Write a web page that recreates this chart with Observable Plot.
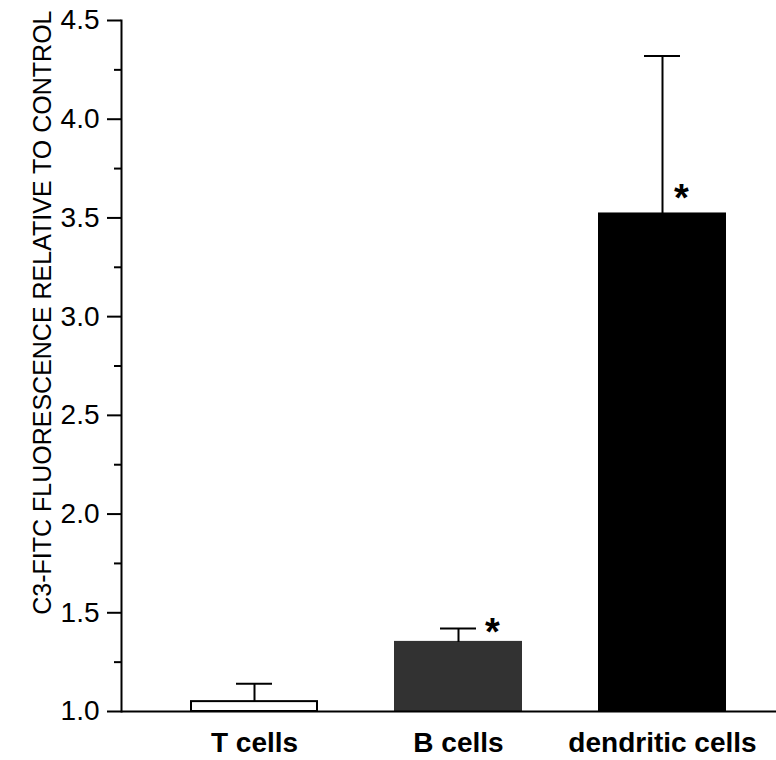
<!DOCTYPE html>
<html>
<head>
<meta charset="utf-8">
<script src="https://cdn.jsdelivr.net/npm/d3@7"></script>
<script src="https://cdn.jsdelivr.net/npm/@observablehq/plot@0.6"></script>
<style>
  html, body { margin: 0; padding: 0; background: #fff; }
</style>
</head>
<body>
<div id="chart"></div>
<script>
const categories = ["T cells", "B cells", "dendritic cells"];
const means = [1.05, 1.35, 3.52];
const upperErrors = [1.14, 1.42, 4.32];
const barFills = ["#ffffff", "#323232", "#000000"];
const barStrokes = ["#000000", "#323232", "#000000"];
const significant = [false, true, true];
const majorTicks = [1.0, 1.5, 2.0, 2.5, 3.0, 3.5, 4.0, 4.5];
const minorTicks = [1.25, 1.75, 2.25, 2.75, 3.25, 3.75, 4.25];
const yLabel = "C3-FITC FLUORESCENCE RELATIVE TO CONTROL";

const data = categories.map((c, i) => ({
  cat: c, mean: means[i], err: upperErrors[i], fill: barFills[i], stroke: barStrokes[i], sig: significant[i]
}));

const chart = Plot.plot({
  width: 776,
  height: 760,
  marginLeft: 121,
  marginRight: 0,
  marginTop: 20,
  marginBottom: 49,
  style: { fontFamily: "'Liberation Sans', Arial, Helvetica, sans-serif", fontSize: "25px", background: "#fff", overflow: "visible" },
  x: { type: "band", domain: categories, range: [190, 727], paddingInner: 0.38, paddingOuter: 0, label: null },
  y: { domain: [1, 4.5], label: null },
  marks: [
    Plot.barY(data, { x: "cat", y1: 1, y2: "mean", fill: "fill", stroke: "stroke", strokeWidth: 2 }),
    Plot.ruleX(data, { x: "cat", y1: "mean", y2: "err", stroke: "black", strokeWidth: 2 }),
    Plot.tickY(data, { x: "cat", y: "err", stroke: "black", strokeWidth: 2, insetLeft: 45, insetRight: 45 }),
    Plot.text(data.filter(d => d.sig && d.cat === "B cells"), { x: "cat", y: "mean", text: () => "*", dx: 34, dy: 3, fontSize: 38, fontWeight: "bold", lineAnchor: "bottom" }),
    Plot.text(data.filter(d => d.sig && d.cat === "dendritic cells"), { x: "cat", y: "mean", text: () => "*", dx: 19, dy: -3, fontSize: 38, fontWeight: "bold", lineAnchor: "bottom" }),
    Plot.ruleY([1], { stroke: "black", strokeWidth: 2 }),
    Plot.frame({ anchor: "left", stroke: "black", strokeWidth: 2 }),
    Plot.axisY({ ticks: minorTicks, tickSize: 7, text: null, strokeWidth: 2, label: null }),
    Plot.axisY({ ticks: majorTicks, tickSize: 14, tickPadding: 8, tickFormat: d3.format(".1f"), strokeWidth: 2, fontSize: 28, label: null }),
    Plot.axisX({ tickSize: 0, tickPadding: 21, fontSize: 28, fontWeight: "bold", label: null }),
    Plot.text([yLabel], { frameAnchor: "top-left", text: d => d, rotate: -90, textAnchor: "end", dx: -88, dy: -10, fontSize: 25 })
  ]
});
document.getElementById("chart").appendChild(chart);
</script>
</body>
</html>
